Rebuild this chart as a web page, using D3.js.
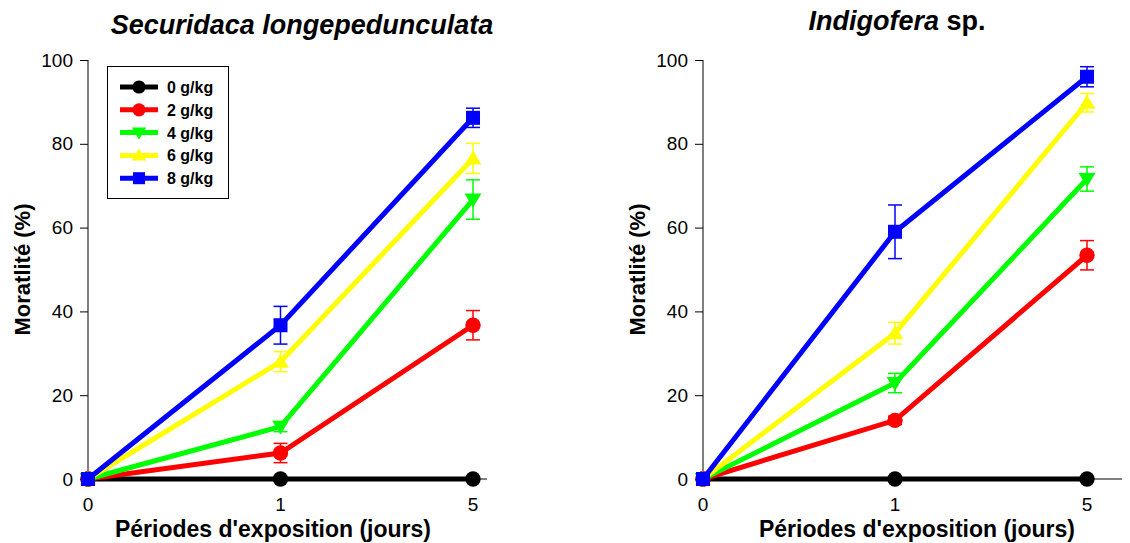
<!DOCTYPE html>
<html>
<head>
<meta charset="utf-8">
<script src="https://cdn.jsdelivr.net/npm/d3@7"></script>
<style>
  body { margin: 0; background: #fff; }
  svg { font-family: "Liberation Sans", Arial, sans-serif; }
  .axis path, .axis line { stroke: #000; stroke-width: 1; }
  .axis text { font-size: 19px; fill: #000; }
</style>
</head>
<body>
<svg id="chart" width="1130" height="543"></svg>
<script>
const periods = ["0", "1", "5"];
const doses = ["0 g/kg", "2 g/kg", "4 g/kg", "6 g/kg", "8 g/kg"];
const colors = ["#000000", "#ff0000", "#00ff00", "#ffff00", "#0000ff"];
const symbols = ["circle", "circle", "down", "up", "square"];
const yTicks = [0, 20, 40, 60, 80, 100];

// Securidaca longepedunculata
const securidacaMean = [
  [0, 0, 0],
  [0, 6.2, 36.7],
  [0, 12.5, 66.7],
  [0, 28, 76.5],
  [0, 36.7, 86.2]
];
const securidacaErr = [
  [0, 0, 0],
  [0, 2.3, 3.5],
  [0, 1.2, 4.7],
  [0, 2.4, 3.6],
  [0, 4.5, 2.3]
];

// Indigofera sp.
const indigoferaMean = [
  [0, 0, 0],
  [0, 14, 53.4],
  [0, 22.9, 71.6],
  [0, 34.8, 89.8],
  [0, 59, 96]
];
const indigoferaErr = [
  [0, 0, 0],
  [0, 1, 3.5],
  [0, 2.3, 2.9],
  [0, 2.6, 2.2],
  [0, 6.4, 2.4]
];

const svg = d3.select("#chart");

function drawSymbol(g, kind, x, y, color, s) {
  if (kind === "circle") {
    g.append("circle").attr("cx", x).attr("cy", y).attr("r", s * 0.55).attr("fill", color);
  } else if (kind === "square") {
    g.append("rect").attr("x", x - s / 2).attr("y", y - s / 2)
      .attr("width", s).attr("height", s).attr("fill", color);
  } else {
    const h = s * 0.95, w = s * 0.6;
    const pts = kind === "up"
      ? [[x, y - h * 0.6], [x - w, y + h * 0.45], [x + w, y + h * 0.45]]
      : [[x, y + h * 0.6], [x - w, y - h * 0.45], [x + w, y - h * 0.45]];
    g.append("polygon").attr("points", pts.map(p => p.join(",")).join(" ")).attr("fill", color);
  }
}

function drawPanel(opt) {
  const { x0, x1, axisEnd, means, errs, titleParts, titleX, titleY, xTitleX, legend } = opt;
  const top = 60, bottom = 479;

  const x = d3.scalePoint().domain(periods).range([x0, x1]);
  const y = d3.scaleLinear().domain([0, 100]).range([bottom, top]);
  const g = svg.append("g");

  // y axis
  g.append("g").attr("class", "axis")
    .attr("transform", `translate(${x0},0)`)
    .call(d3.axisLeft(y).tickValues(yTicks).tickSize(8).tickPadding(7))
    .call(a => a.select(".domain").remove())
    .call(a => a.append("line").attr("x1", 0).attr("x2", 0).attr("y1", top).attr("y2", bottom).attr("stroke", "#000"));

  // x axis
  g.append("line").attr("x1", x0).attr("x2", axisEnd).attr("y1", bottom).attr("y2", bottom).attr("stroke", "#000");
  g.selectAll(".xlab").data(periods).enter().append("text")
    .attr("x", d => x(d)).attr("y", 511)
    .attr("text-anchor", "middle").attr("font-size", 19).text(d => d);

  // titles
  const t = g.append("text").attr("x", titleX).attr("y", titleY)
    .attr("text-anchor", "middle").attr("font-size", 27).attr("font-weight", "bold");
  titleParts.forEach(p => t.append("tspan").attr("font-style", p.italic ? "italic" : "normal").text(p.text));

  g.append("text").attr("x", xTitleX).attr("y", 537)
    .attr("text-anchor", "middle").attr("font-size", 23).attr("font-weight", "bold")
    .text("Périodes d'exposition (jours)");

  g.append("text").attr("transform", `translate(${x0 - 58},${(top + bottom) / 2 + 0}) rotate(-90)`)
    .attr("text-anchor", "middle").attr("font-size", 22).attr("font-weight", "bold")
    .text("Moratlité (%)");

  const line = d3.line().x((d, i) => x(periods[i])).y(d => y(d));

  means.forEach((series, k) => {
    const sg = g.append("g");
    sg.append("path").datum(series).attr("d", line)
      .attr("fill", "none").attr("stroke", colors[k]).attr("stroke-width", 5);
    series.forEach((v, i) => {
      const e = errs[k][i];
      const px = x(periods[i]);
      if (e > 0) {
        sg.append("line").attr("x1", px).attr("x2", px).attr("y1", y(v - e)).attr("y2", y(v + e))
          .attr("stroke", colors[k]).attr("stroke-width", 1.5);
        [v - e, v + e].forEach(c => sg.append("line")
          .attr("x1", px - 7).attr("x2", px + 7).attr("y1", y(c)).attr("y2", y(c))
          .attr("stroke", colors[k]).attr("stroke-width", 1.5));
      }
    });
    series.forEach((v, i) => drawSymbol(sg, symbols[k], x(periods[i]), y(v), colors[k], 14));
  });

  if (legend) {
    const lg = g.append("g");
    lg.append("rect").attr("x", 107.5).attr("y", 66.5).attr("width", 121).attr("height", 132)
      .attr("fill", "#fff").attr("stroke", "#000").attr("stroke-width", 1);
    doses.forEach((d, k) => {
      const ly = 87 + k * 22.8;
      lg.append("line").attr("x1", 120).attr("x2", 158).attr("y1", ly).attr("y2", ly)
        .attr("stroke", colors[k]).attr("stroke-width", 5);
      drawSymbol(lg, symbols[k], 139, ly, colors[k], 12);
      lg.append("text").attr("x", 167).attr("y", ly + 6).attr("font-size", 16).attr("font-weight", "bold").text(d);
    });
  }
}

drawPanel({
  x0: 88, x1: 473, axisEnd: 487,
  means: securidacaMean, errs: securidacaErr,
  titleParts: [{ text: "Securidaca longepedunculata", italic: true }],
  titleX: 302, titleY: 34, xTitleX: 273, legend: true
});

drawPanel({
  x0: 703, x1: 1087, axisEnd: 1122,
  means: indigoferaMean, errs: indigoferaErr,
  titleParts: [{ text: "Indigofera", italic: true }, { text: " sp.", italic: false }],
  titleX: 897, titleY: 30, xTitleX: 917, legend: false
});
</script>
</body>
</html>
